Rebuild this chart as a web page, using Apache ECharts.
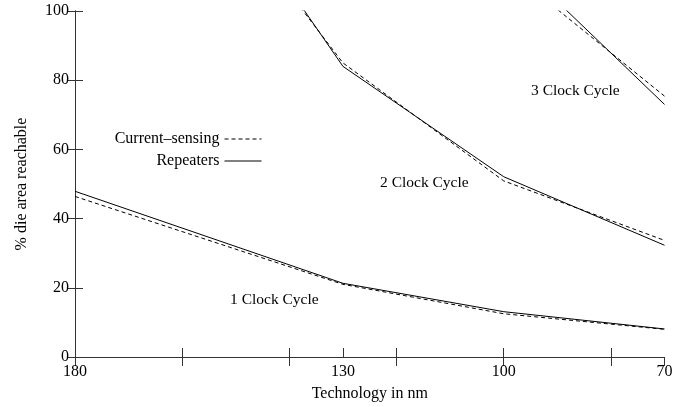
<!DOCTYPE html>
<html>
<head>
<meta charset="utf-8">
<script src="https://cdn.jsdelivr.net/npm/echarts@6/dist/echarts.min.js"></script>
<style>
  html, body { margin: 0; padding: 0; background: #fff; }
  #chart { width: 684px; height: 407px; }
</style>
</head>
<body>
<div id="chart"></div>
<script>
// Technology nodes and their positions along the horizontal axis
const nodeLabels = ['180', '130', '100', '70'];
const nodePos = [0, 2.5, 4, 5.5];

// % die area reachable, per clock-cycle budget
const repeaters1 = [47.9, 21.3, 13.1, 8.1];
const sensing1   = [46.4, 21.0, 12.5, 8.0];
const repeaters2 = [196, 84.0, 52.1, 32.3];
const sensing2   = [186, 85.0, 50.9, 33.7];
const repeaters3 = [null, null, 117.6, 73.0];
const sensing3   = [null, null, 113.0, 75.4];

const FONT = 'Liberation Serif';
const BORDER = '#333';

function pairs(vals) {
  return nodePos.map((x, i) => [x, vals[i]]);
}

function solid(vals) {
  return {
    name: 'Repeaters', type: 'line', data: pairs(vals),
    symbol: 'none', clip: true, animation: false,
    itemStyle: { color: '#000' },
    lineStyle: { color: '#000', width: 1, type: 'solid' }
  };
}
function dashed(vals) {
  return {
    name: 'Current–sensing', type: 'line', data: pairs(vals),
    symbol: 'none', clip: true, animation: false,
    itemStyle: { color: '#000' },
    lineStyle: { color: '#000', width: 1, type: [4, 3] }
  };
}

const labelOf = {};
nodePos.forEach((p, i) => { labelOf[p] = nodeLabels[i]; });

const chart = echarts.init(document.getElementById('chart'), null, { renderer: 'canvas' });

const legendText = { fontFamily: FONT, fontSize: 16, color: '#000' };
const legendCommon = {
  orient: 'vertical', align: 'right', right: 422, padding: 0,
  itemWidth: 37, itemHeight: 14, itemGap: 6,
  textStyle: legendText, selectedMode: false,
  itemStyle: { opacity: 0 },
  lineStyle: { color: '#000', width: 1 }
};
const noteFont = '15.5px "Liberation Serif"';

chart.setOption({
  animation: false,
  backgroundColor: '#fff',
  grid: { left: 75, right: 19.5, top: 11, bottom: 48 },
  xAxis: [
    {
      type: 'value', position: 'bottom', min: 0, max: 5.5, interval: 0.5,
      name: 'Technology in nm', nameLocation: 'middle', nameGap: 29,
      nameTextStyle: { fontFamily: FONT, fontSize: 16, color: '#000' },
      axisLine: { show: true, lineStyle: { color: BORDER, width: 1 } },
      axisTick: { show: true, inside: true, length: 9, customValues: [1, 2, 2.5, 3, 4, 5],
                  lineStyle: { color: BORDER } },
      axisLabel: { fontFamily: FONT, fontSize: 16, color: '#000', margin: 7,
                   customValues: nodePos, formatter: v => labelOf[v] ?? '' },
      splitLine: { show: false }
    },
    {
      type: 'value', position: 'top', min: 0, max: 5.5, interval: 1,
      axisLine: { show: true, lineStyle: { color: BORDER, width: 1 } },
      axisTick: { show: true, inside: true, length: 9, lineStyle: { color: BORDER } },
      axisLabel: { show: false },
      splitLine: { show: false }
    }
  ],
  yAxis: [
    {
      type: 'value', position: 'left', min: 0, max: 100, interval: 20,
      name: '% die area reachable', nameLocation: 'middle', nameGap: 45,
      nameTextStyle: { fontFamily: FONT, fontSize: 16, color: '#000' },
      axisLine: { show: true, lineStyle: { color: BORDER, width: 1 } },
      axisTick: { show: true, inside: true, length: 8, lineStyle: { color: BORDER } },
      axisLabel: { fontFamily: FONT, fontSize: 16, color: '#000', margin: 6 },
      splitLine: { show: false }
    },
    {
      type: 'value', position: 'right', min: 0, max: 100, interval: 20,
      axisLine: { show: true, lineStyle: { color: BORDER, width: 1 } },
      axisTick: { show: true, inside: true, length: 8, lineStyle: { color: BORDER } },
      axisLabel: { show: false },
      splitLine: { show: false }
    }
  ],
  legend: [
    Object.assign({ data: ['Current–sensing'], top: 131 }, legendCommon),
    Object.assign({ data: ['Repeaters'], top: 153 }, legendCommon)
  ],
  graphic: [
    { type: 'text', left: 230, top: 292, style: { text: '1 Clock Cycle', font: noteFont, fill: '#000' } },
    { type: 'text', left: 380, top: 175, style: { text: '2 Clock Cycle', font: noteFont, fill: '#000' } },
    { type: 'text', left: 531, top: 83, style: { text: '3 Clock Cycle', font: noteFont, fill: '#000' } }
  ],
  series: [
    solid(repeaters1), dashed(sensing1),
    solid(repeaters2), dashed(sensing2),
    solid(repeaters3), dashed(sensing3)
  ]
});
</script>
</body>
</html>
